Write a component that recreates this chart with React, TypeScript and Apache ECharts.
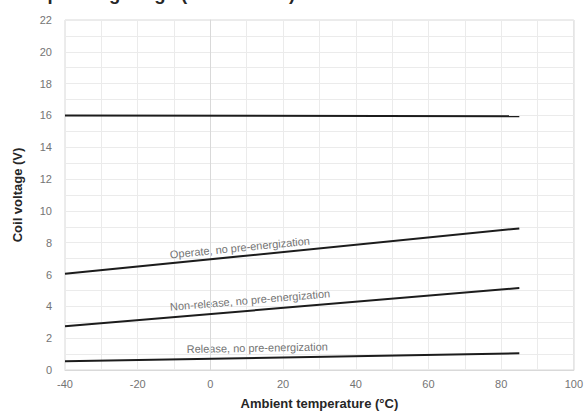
import React, { useEffect, useRef } from "react";
import * as echarts from "echarts";

const TITLE = "Operating range (12 VDC coil)";
const X_NAME = "Ambient temperature (°C)";
const Y_NAME = "Coil voltage (V)";

const tempPoints = [-40, 85];
const maxVoltage = [16.0, 15.95];
const operateVoltage = [6.05, 8.9];
const nonReleaseVoltage = [2.75, 5.15];
const releaseVoltage = [0.55, 1.05];

const seriesNames = [
  "Maximum",
  "Operate, no pre-energization",
  "Non-release, no pre-energization",
  "Release, no pre-energization",
];
// label anchor [x, y] in data coordinates for each labelled line
const labelAnchors: (number[] | null)[] = [null, [8.1, 7.7], [10.9, 4.4], [12.9, 1.4]];

const allValues = [maxVoltage, operateVoltage, nonReleaseVoltage, releaseVoltage];

export default function App() {
  const ref = useRef<HTMLDivElement>(null);
  useEffect(() => {
    if (!ref.current) return;
    const chart = echarts.init(ref.current, undefined, { renderer: "svg" });
    const font = "Liberation Sans, Arial, sans-serif";
    const gridColor = "#ebebeb";
    const labelColor = "#747474";
    chart.setOption({
      animation: false,
      backgroundColor: "#ffffff",
      grid: {
        left: 65,
        right: 12,
        top: 20,
        bottom: 41,
        show: true,
        borderColor: "#d9d9d9",
        borderWidth: 1,
        containLabel: false,
      },
      xAxis: {
        type: "value",
        min: -40,
        max: 100,
        interval: 20,
        name: X_NAME,
        nameLocation: "middle",
        nameGap: 27,
        nameTextStyle: { fontFamily: font, fontSize: 13, fontWeight: "bold", color: "#262626" },
        axisLine: { show: true, lineStyle: { color: "#d9d9d9" } },
        axisTick: { show: false },
        axisLabel: { fontFamily: font, fontSize: 11, color: labelColor, margin: 8 },
        splitLine: { show: true, lineStyle: { color: gridColor } },
        minorTick: { show: false, splitNumber: 2 },
        minorSplitLine: { show: true, lineStyle: { color: gridColor } },
      },
      yAxis: {
        type: "value",
        min: 0,
        max: 22,
        interval: 2,
        name: Y_NAME,
        nameLocation: "middle",
        nameGap: 41,
        nameTextStyle: { fontFamily: font, fontSize: 13, fontWeight: "bold", color: "#262626" },
        axisLine: { show: true, lineStyle: { color: "#d9d9d9" } },
        axisTick: { show: false },
        axisLabel: { fontFamily: font, fontSize: 11, color: labelColor, margin: 13 },
        splitLine: { show: true, lineStyle: { color: gridColor } },
        minorTick: { show: false, splitNumber: 2 },
        minorSplitLine: { show: true, lineStyle: { color: gridColor } },
      },
      series: allValues.map((vals, i) => ({
        name: seriesNames[i],
        type: "line",
        symbol: "none",
        data: tempPoints.map((t, k) => [t, vals[k]]),
        lineStyle: { color: "#1c1c1c", width: 2 },
      })),
    });

    const graphics: any[] = [
      {
        type: "text",
        x: 33,
        y: -6.5,
        style: {
          text: TITLE,
          font: `bold 18.5px ${font}`,
          fill: "#262626",
          textAlign: "left",
          textVerticalAlign: "middle",
        },
      },
    ];
    allValues.forEach((vals, i) => {
      const anchor = labelAnchors[i];
      if (!anchor) return;
      const p0 = chart.convertToPixel({ gridIndex: 0 }, [tempPoints[0], vals[0]]) as number[];
      const p1 = chart.convertToPixel({ gridIndex: 0 }, [tempPoints[1], vals[1]]) as number[];
      const angle = Math.atan2(p0[1] - p1[1], p1[0] - p0[0]);
      const pa = chart.convertToPixel({ gridIndex: 0 }, anchor) as number[];
      graphics.push({
        type: "text",
        x: pa[0],
        y: pa[1],
        rotation: angle,
        style: {
          text: seriesNames[i],
          font: `11px ${font}`,
          fill: labelColor,
          textAlign: "center",
          textVerticalAlign: "middle",
        },
      });
    });
    chart.setOption({ graphic: graphics });
    return () => chart.dispose();
  }, []);
  return (
    <div
      ref={ref}
      style={{ position: "fixed", left: 0, top: 0, width: 586, height: 415 }}
    />
  );
}
